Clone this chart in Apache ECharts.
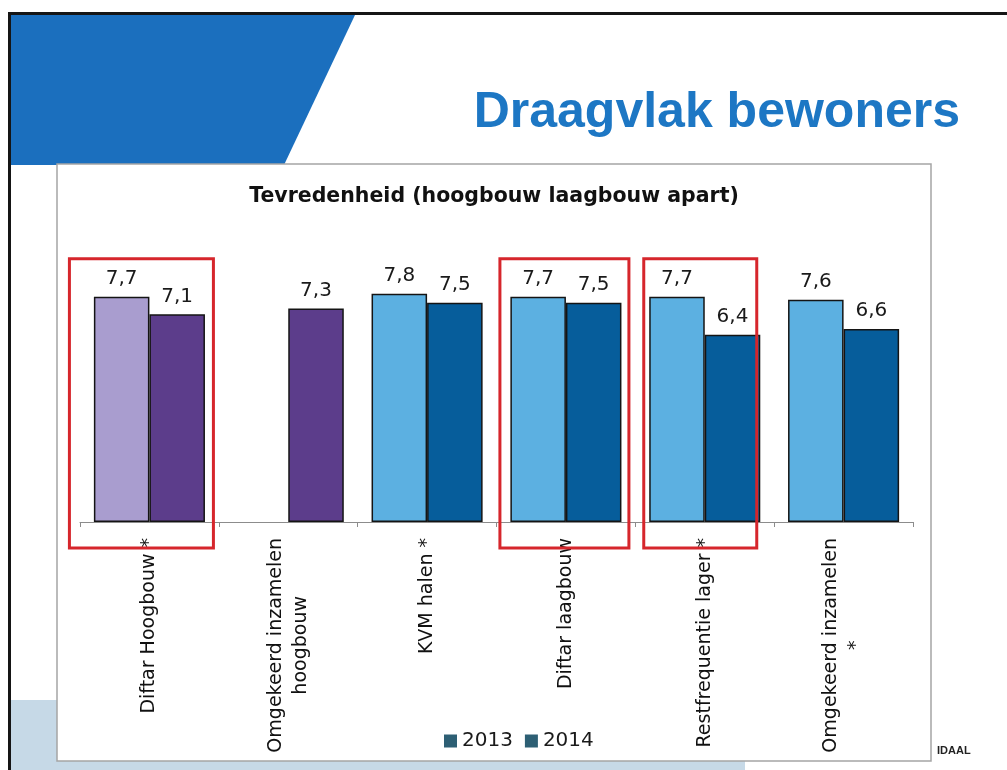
<!DOCTYPE html>
<html>
<head>
<meta charset="utf-8">
<title>Draagvlak bewoners</title>
<script src="https://cdn.jsdelivr.net/npm/echarts@6/dist/echarts.min.js"></script>
<style>
  html, body { margin: 0; padding: 0; background: #fff; }
  #chart { width: 1007px; height: 770px; }
</style>
</head>
<body>
<div id="chart"></div>
<script>
// data
var categories = [
  "Diftar Hoogbouw *",
  "Omgekeerd inzamelen\nhoogbouw",
  "KVM halen *",
  "Diftar laagbouw",
  "Restfrequentie lager *",
  "Omgekeerd inzamelen\n*"
];
var years = ["2013", "2014"];
var values2013 = [7.7, null, 7.8, 7.7, 7.7, 7.6];
var values2014 = [7.1, 7.3, 7.5, 7.5, 6.4, 6.6];

// hoogbouw categories are drawn in purple, the rest in blue
var hoogbouwIndex = [0, 1];
// categories marked with a red frame (offsets from category centre, px)
var redFrames = [
  { cat: 0, left: -80, right: 64 },
  { cat: 3, left: -66, right: 63 },
  { cat: 4, left: -61, right: 52 }
];

var colors = {
  purpleLight: "#a99dcf",
  purpleDark: "#5c3d8b",
  blueLight: "#5cb0e1",
  blueDark: "#065d9b",
  legend: "#2d5f74"
};

function fmt(v) {
  return String(v).replace(".", ",");
}

function buildData(values, light) {
  return values.map(function (v, i) {
    var purple = hoogbouwIndex.indexOf(i) >= 0;
    var c = light
      ? (purple ? colors.purpleLight : colors.blueLight)
      : (purple ? colors.purpleDark : colors.blueDark);
    return { value: v, itemStyle: { color: c } };
  });
}

var chart = echarts.init(document.getElementById("chart"));

var labelStyle = {
  show: true,
  position: "top",
  distance: 8,
  fontFamily: "DejaVu Sans",
  fontSize: 20,
  color: "#1a1a1a",
  formatter: function (p) {
    return p.value == null ? "" : fmt(p.value);
  }
};

var option = {
  animation: false,
  backgroundColor: "#fff",
  grid: {
    left: 80,
    right: 94,
    top: 229.5,
    bottom: 248
  },
  legend: {
    left: 439,
    bottom: 14,
    icon: "rect",
    itemWidth: 13,
    itemHeight: 13,
    itemGap: 12,
    itemStyle: { borderWidth: 0 },
    textStyle: {
      fontFamily: "DejaVu Sans",
      fontSize: 20,
      color: "#1a1a1a"
    },
    data: [
      { name: years[0], itemStyle: { color: colors.legend, borderWidth: 0 } },
      { name: years[1], itemStyle: { color: colors.legend, borderWidth: 0 } }
    ]
  },
  xAxis: {
    type: "category",
    data: categories,
    axisLine: { lineStyle: { color: "#8c8c8c", width: 1 } },
    axisTick: { show: true, length: 5, lineStyle: { color: "#8c8c8c" } },
    axisLabel: {
      interval: 0,
      rotate: 90,
      margin: 16,
      fontFamily: "DejaVu Sans",
      fontSize: 19,
      color: "#111",
      formatter: function (v) {
        var lines = v.split("\n");
        if (lines.length === 1) return v;
        return lines.map(function (s) { return "{c|" + s + "}"; }).join("\n");
      },
      rich: {
        c: {
          align: "center",
          fontFamily: "DejaVu Sans",
          fontSize: 19,
          color: "#111",
          lineHeight: 25
        }
      }
    }
  },
  yAxis: {
    type: "value",
    min: 0,
    max: 10,
    show: false,
    splitLine: { show: false }
  },
  series: [
    {
      name: years[0],
      type: "bar",
      barGap: "0%",
      barCategoryGap: "20%",
      itemStyle: { borderColor: "#141414", borderWidth: 1.5 },
      label: labelStyle,
      data: buildData(values2013, true)
    },
    {
      name: years[1],
      type: "bar",
      barGap: "0%",
      barCategoryGap: "20%",
      itemStyle: { borderColor: "#141414", borderWidth: 1.5 },
      label: labelStyle,
      data: buildData(values2014, false)
    }
  ]
};

chart.setOption(option);

// slide decoration + red frames, positioned from the chart's own scales
var axisY = chart.convertToPixel({ gridIndex: 0 }, [0, 0])[1];
var frameTop = chart.convertToPixel({ gridIndex: 0 }, [0, 9])[1];

var elements = [
  { type: "rect", id: "strip", z: -10, shape: { x: 11, y: 700, width: 734, height: 70 }, style: { fill: "#c6d9e7" } },
  { type: "rect", id: "topline", z: -9, shape: { x: 8, y: 12, width: 999, height: 3 }, style: { fill: "#151515" } },
  { type: "rect", id: "leftline", z: -9, shape: { x: 8, y: 12, width: 3, height: 758 }, style: { fill: "#151515" } },
  { type: "polygon", id: "blue", z: -9, shape: { points: [[11, 15], [355, 15], [284, 165], [11, 165]] }, style: { fill: "#1b6fbe" } },
  { type: "rect", id: "box", z: -8, shape: { x: 57, y: 164, width: 874, height: 597 }, style: { fill: "#fff", stroke: "#a5a5a5", lineWidth: 1.5 } },
  {
    type: "text", id: "title", z: -7, x: 960, y: 113,
    style: { text: "Draagvlak bewoners", align: "right", verticalAlign: "middle", fill: "#1d77c4", font: "bold 50px 'Liberation Sans'" }
  },
  {
    type: "text", id: "subtitle", z: -7, x: 494, y: 197,
    style: { text: "Tevredenheid (hoogbouw laagbouw apart)", align: "center", verticalAlign: "middle", fill: "#111", font: "bold 20.5px 'DejaVu Sans'" }
  },
  {
    type: "text", id: "logo", z: -7, x: 937, y: 751,
    style: { text: "IDAAL", align: "left", verticalAlign: "middle", fill: "#222", font: "bold 11px 'Liberation Sans'" }
  }
];

redFrames.forEach(function (f, k) {
  var cx = chart.convertToPixel({ gridIndex: 0 }, [f.cat, 0])[0];
  elements.push({
    type: "rect",
    id: "frame" + k,
    z: 20,
    shape: { x: cx + f.left, y: frameTop, width: f.right - f.left, height: axisY + 26 - frameTop },
    style: { fill: "none", stroke: "#d6262c", lineWidth: 3 }
  });
});

chart.setOption({ graphic: { elements: elements } });
</script>
</body>
</html>
